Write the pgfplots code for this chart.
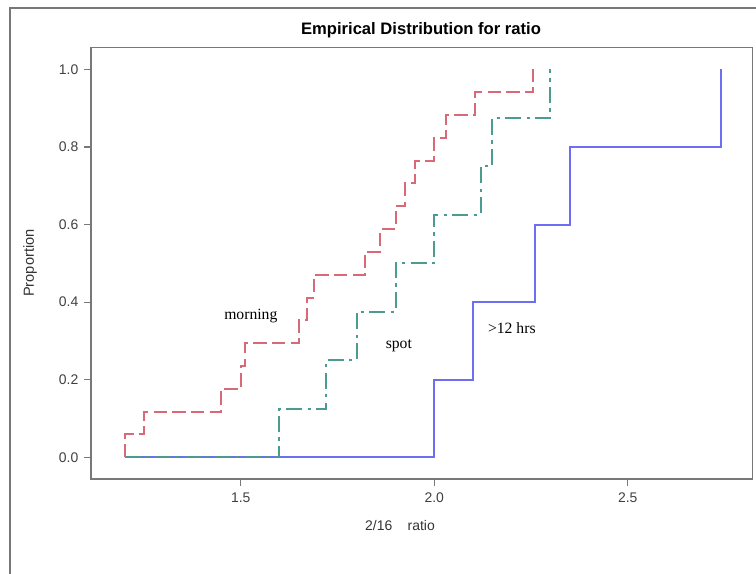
\documentclass[border=0pt]{standalone}
\usepackage{pgfplots}
\pgfplotsset{compat=1.18}
\usepackage{fontspec}
\setmainfont{Liberation Sans}
\newfontfamily\timesf{Liberation Serif}

\definecolor{cmorning}{RGB}{215,105,120}
\definecolor{cspot}{RGB}{75,155,145}
\definecolor{chrs}{RGB}{110,110,240}
\definecolor{frame}{RGB}{120,120,120}

\begin{document}
\begin{tikzpicture}
\useasboundingbox (0,0) rectangle (567bp,430.5bp);
% outer graph frame, runs off the right and bottom edges
\draw[frame, line width=1bp] (7.5bp,-20bp) -- (7.5bp,424.5bp) -- (620bp,424.5bp);

\begin{axis}[
    at={(68.25bp,71.25bp)}, anchor=south west,
    scale only axis,
    width=496.3bp, height=323.8bp,
    xmin=1.113, xmax=2.823,
    ymin=-0.056, ymax=1.057,
    xtick={1.5,2.0,2.5},
    ytick={0,0.2,0.4,0.6,0.8,1.0},
    tick align=outside,
    major tick length=5bp,
    tick style={frame, line width=0.9bp},
    axis line style={frame, line width=1.1bp},
    xtick pos=bottom, ytick pos=left,
    /pgf/number format/assume math mode=true,
    /pgf/number format/.cd, fixed, fixed zerofill, precision=1, /pgfplots/.cd,
    tick label style={font=\fontsize{10.5}{12}\selectfont, text=black!75},
    xticklabel style={yshift=-2bp},
    yticklabel style={xshift=-1bp},
    clip=false,
]
% >12 hrs (n=5)
\addplot[const plot, chrs, line width=1.5bp] coordinates {
  (1.2,0) (2.0,0.2) (2.10,0.4) (2.26,0.6) (2.35,0.8) (2.74,1.0)};
% spot (n=8)
\addplot[const plot, cspot, line width=1.5bp,
  dash pattern=on 12bp off 4bp on 2.5bp off 4bp] coordinates {
  (1.2,0) (1.6,0.125) (1.72,0.25) (1.80,0.375) (1.90,0.5)
  (2.0,0.625) (2.12,0.75) (2.15,0.875) (2.30,1.0)};
% morning (n=17)
\addplot[const plot, cmorning, line width=1.5bp,
  dash pattern=on 10bp off 4bp] coordinates {
  (1.2,0) (1.2,0.0588) (1.25,0.1176) (1.45,0.1765) (1.50,0.2353)
  (1.51,0.2941) (1.65,0.3529) (1.67,0.4118) (1.69,0.4706)
  (1.82,0.5294) (1.86,0.5882) (1.90,0.6471) (1.925,0.7059)
  (1.95,0.7647) (2.0,0.8235) (2.03,0.8824) (2.105,0.9412) (2.255,1.0)};

\node[font=\timesf\fontsize{11.8}{13}\selectfont] at (axis cs:1.526,0.364) {morning};
\node[font=\timesf\fontsize{11.8}{13}\selectfont] at (axis cs:1.9085,0.287) {spot};
\node[font=\timesf\fontsize{11.8}{13}\selectfont] at (axis cs:2.2005,0.333) {>12 hrs};

\node[font=\bfseries\fontsize{12.5}{14}\selectfont] at (axis description cs:0.4987,1.040) {Empirical Distribution for ratio};
\node[font=\fontsize{10.5}{12}\selectfont, text=black!80] at (axis description cs:0.467,-0.1066) {2/16\hspace{1.1em}ratio};
\node[font=\fontsize{11}{12}\selectfont, text=black!80, rotate=90] at (axis description cs:-0.0922,0.5) {Proportion};
\end{axis}
\end{tikzpicture}
\end{document}
